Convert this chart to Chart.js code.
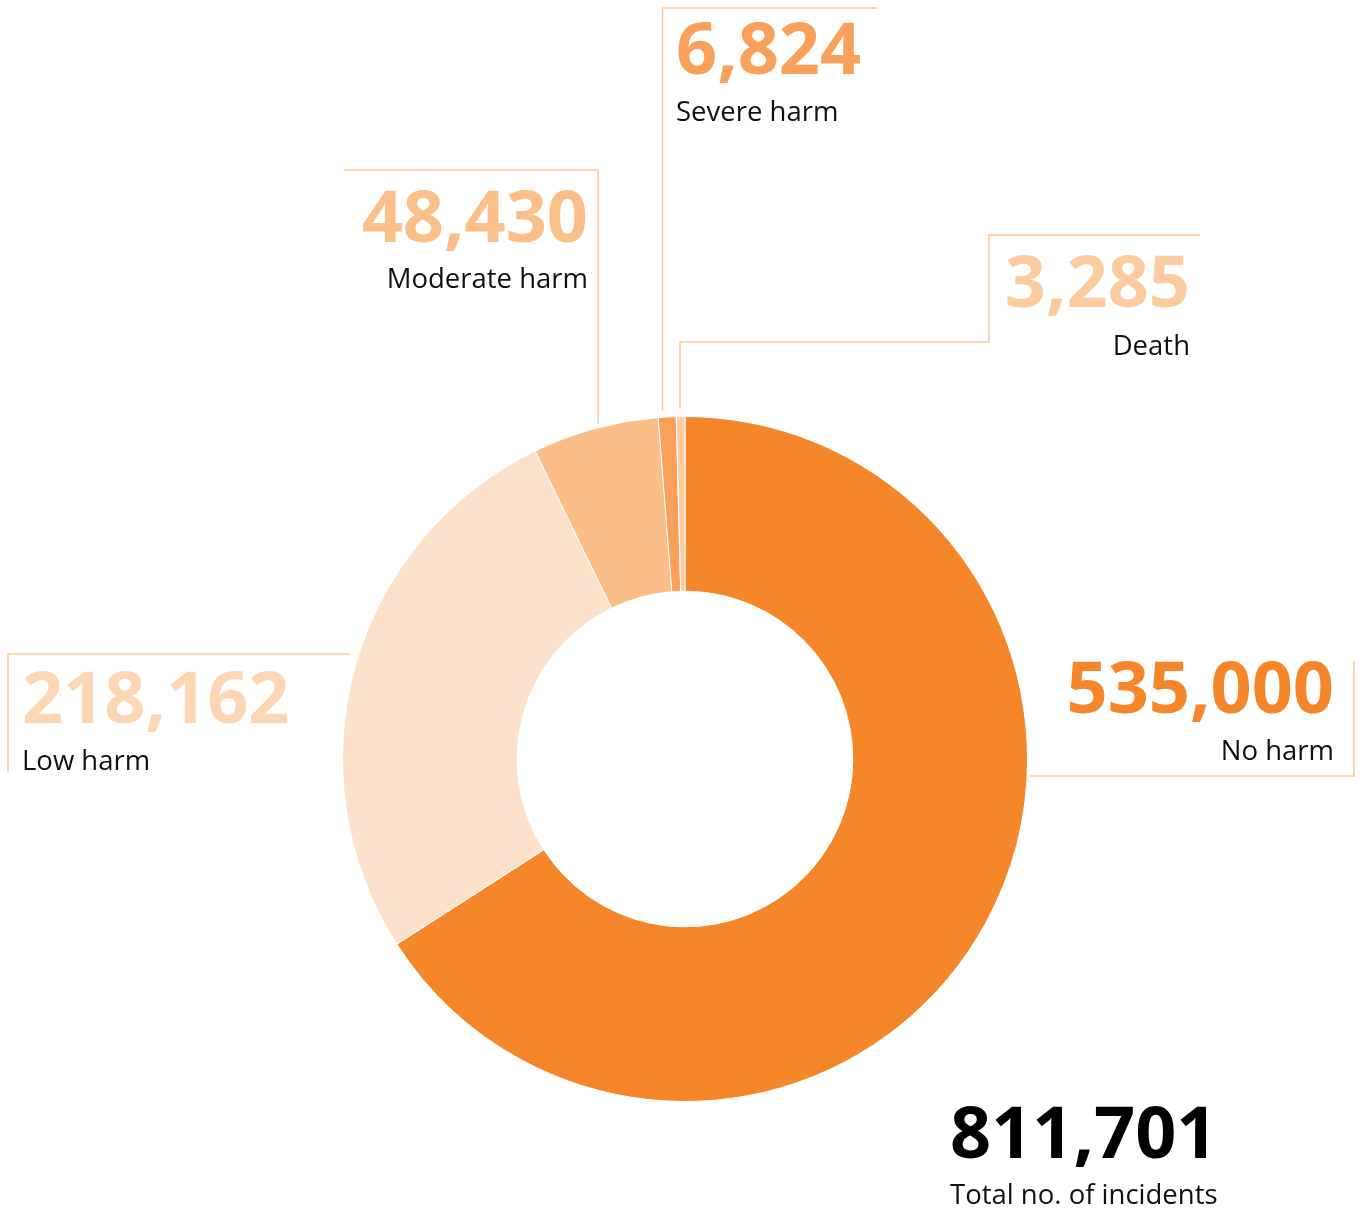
<!DOCTYPE html>
<html>
<head>
<meta charset="utf-8">
<script src="https://cdn.jsdelivr.net/npm/chart.js@4/dist/chart.umd.min.js"></script>
<style>
  html, body { margin: 0; padding: 0; background: #ffffff; }
  #wrap { position: relative; width: 1360px; height: 1213px; }
</style>
</head>
<body>
<div id="wrap"><canvas id="harm"></canvas></div>
<script>
// Incidents by degree of harm, clockwise from 12 o'clock
const categories = ['No harm', 'Low harm', 'Moderate harm', 'Severe harm', 'Death'];
const incidents = [535000, 218162, 48430, 6824, 3285];
const totalLabel = 'Total no. of incidents';

const sliceColors = ['#F5862A', '#FDE2CB', '#FBBE89', '#F9A05A', '#FDCCA2'];
const numberColors = ['#F5862A', '#FDD6B4', '#FBBF8A', '#F9A15B', '#FDCBA0'];
const leaderColor = '#FCCA9C';

const fmt = n => n.toLocaleString('en-GB');

// Callout placement for each slice: text anchor, alignment and the leader path.
// 'tail' is the end of the leader that runs toward the ring.
const callouts = [
  { text: [1334, 713, 760], align: 'right',
    path: [[1354, 661], [1354, 776]], tail: { axis: 'y', at: 776, side: 1, gap: 3 } },
  { text: [22, 723, 770], align: 'left',
    path: [[8, 772], [8, 654]], tail: { axis: 'y', at: 654, side: -1, gap: 9 } },
  { text: [588, 242, 288], align: 'right',
    path: [[344, 170], [598, 170]], tail: { axis: 'x', at: 598, gap: 4 } },
  { text: [676, 74, 121], align: 'left',
    path: [[877, 8], [662.5, 8]], tail: { axis: 'x', at: 662.5, gap: 6 } },
  { text: [1190, 307, 355], align: 'right',
    path: [[1200, 235], [989, 235], [989, 342], [680, 342]], tail: { axis: 'x', at: 680, gap: 8 } }
];
const totalText = [950, 1158, 1204];

const calloutPlugin = {
  id: 'callouts',
  afterDraw(chart) {
    const ctx = chart.ctx;
    const arc = chart.getDatasetMeta(0).data[0];
    const cx = arc.x, cy = arc.y, R = arc.outerRadius;
    ctx.save();
    ctx.strokeStyle = leaderColor;
    ctx.lineWidth = 1.5;
    callouts.forEach((c, i) => {
      const pts = c.path.slice();
      const t = c.tail;
      if (t.axis === 'x') {
        const dy = Math.sqrt(Math.max(R * R - (t.at - cx) * (t.at - cx), 0));
        pts.push([t.at, cy - dy - t.gap]);
      } else {
        const dx = Math.sqrt(Math.max(R * R - (t.at - cy) * (t.at - cy), 0));
        pts.push([cx + t.side * (dx + t.gap), t.at]);
      }
      ctx.beginPath();
      ctx.moveTo(pts[0][0], pts[0][1]);
      for (let k = 1; k < pts.length; k++) ctx.lineTo(pts[k][0], pts[k][1]);
      ctx.stroke();

      ctx.textAlign = c.align;
      ctx.textBaseline = 'alphabetic';
      ctx.fillStyle = numberColors[i];
      ctx.font = '700 72px "Open Sans"';
      ctx.fillText(fmt(incidents[i]), c.text[0], c.text[1]);
      ctx.fillStyle = '#111111';
      ctx.font = '400 27.5px "Open Sans"';
      ctx.fillText(categories[i], c.text[0], c.text[2]);
    });

    const total = incidents.reduce((a, b) => a + b, 0);
    ctx.textAlign = 'left';
    ctx.fillStyle = '#000000';
    ctx.font = '700 72px "Open Sans"';
    ctx.fillText(fmt(total), totalText[0], totalText[1]);
    ctx.fillStyle = '#111111';
    ctx.font = '400 27.5px "Open Sans"';
    ctx.fillText(totalLabel, totalText[0], totalText[2]);
    ctx.restore();
  }
};

new Chart(document.getElementById('harm'), {
  type: 'doughnut',
  data: {
    labels: categories,
    datasets: [{
      data: incidents,
      backgroundColor: sliceColors,
      borderColor: '#ffffff',
      borderWidth: 1
    }]
  },
  options: {
    responsive: true,
    maintainAspectRatio: false,
    animation: false,
    cutout: '49%',
    layout: { padding: { left: 342, right: 332, top: 416, bottom: 111 } },
    plugins: { legend: { display: false }, tooltip: { enabled: false } }
  },
  plugins: [calloutPlugin]
});
</script>
</body>
</html>
